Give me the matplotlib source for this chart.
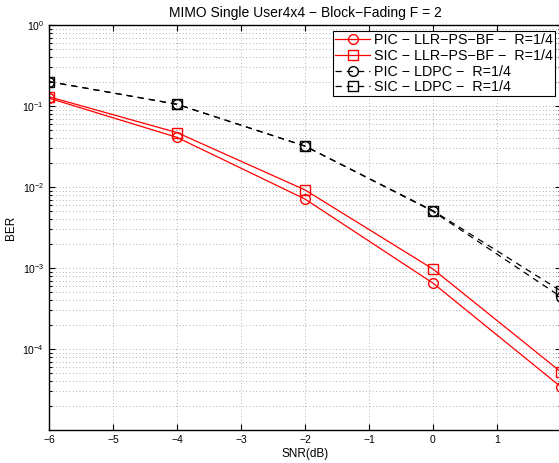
import numpy as np
import matplotlib
matplotlib.use('Agg')
import matplotlib.pyplot as plt
from matplotlib.ticker import LogLocator, NullFormatter, FixedLocator

plt.rcParams['font.family'] = ['Liberation Sans', 'DejaVu Sans']

snr = [-6, -4, -2, 0, 2]
pic_llr = [0.125, 0.041, 0.0071, 6.5e-4, 3.4e-5]
sic_llr = [0.13, 0.047, 0.0092, 9.7e-4, 5.2e-5]
pic_ldpc = [0.2, 0.105, 0.032, 0.0050, 4.4e-4]
sic_ldpc = [0.2, 0.105, 0.032, 0.0051, 5.2e-4]

labels = ['PIC \u2212 LLR\u2212PS\u2212BF \u2212  R=1/4',
          'SIC \u2212 LLR\u2212PS\u2212BF \u2212  R=1/4',
          'PIC \u2212 LDPC \u2212  R=1/4',
          'SIC \u2212 LDPC \u2212  R=1/4']

fig = plt.figure(figsize=(5.59, 4.63), dpi=100)
ax = fig.add_axes([49/559, 33/463, 512/559, 405/463])

ax.semilogy(snr, pic_llr, 'r-o', mfc='none', ms=7, lw=0.9, label=labels[0])
ax.semilogy(snr, sic_llr, 'r-s', mfc='none', ms=7, lw=0.9, label=labels[1])
ax.semilogy(snr, pic_ldpc, 'k--o', mfc='none', ms=7, lw=0.9, dashes=(5, 4), label=labels[2])
ax.semilogy(snr, sic_ldpc, 'k--s', mfc='none', ms=7, lw=0.9, dashes=(5, 4), label=labels[3])

ax.set_xlim(-6, 2)
ax.set_ylim(1e-5, 1)
ax.set_xticks(range(-6, 3))
ax.set_xticklabels(['\u2212%d' % -v if v < 0 else str(v) for v in range(-6, 3)])
ax.yaxis.set_major_locator(FixedLocator([1e-4, 1e-3, 1e-2, 1e-1, 1]))
ax.yaxis.set_minor_locator(LogLocator(base=10, subs=np.arange(2, 10), numticks=20))
ax.yaxis.set_minor_formatter(NullFormatter())

ax.tick_params(which='both', direction='in', top=True, right=True, labelsize=7.5, width=0.8)
ax.tick_params(which='major', length=4)
ax.tick_params(which='minor', length=2)
ax.grid(True, which='major', ls=(0, (1, 3)), color='#999999', lw=0.6)
ax.grid(True, which='minor', axis='y', ls=(0, (1, 3)), color='#999999', lw=0.6)
for s in ax.spines.values():
    s.set_linewidth(1.0)

ax.set_title('MIMO Single User4x4 \u2212 Block\u2212Fading F = 2', fontsize=10, pad=6)
ax.set_xlabel('SNR(dB)', fontsize=8.5, labelpad=2)
ax.set_ylabel('BER', fontsize=8.5, labelpad=4)

leg = ax.legend(loc='upper right', bbox_to_anchor=(555/559, 1 - 31/463),
                bbox_transform=fig.transFigure, fontsize=10.3, fancybox=False,
                framealpha=1, edgecolor='black', borderpad=0.15, labelspacing=0.12,
                handlelength=2.4, handletextpad=0.3, borderaxespad=0)
leg.get_frame().set_linewidth(0.8)

fig.savefig('out.png', dpi=100)
